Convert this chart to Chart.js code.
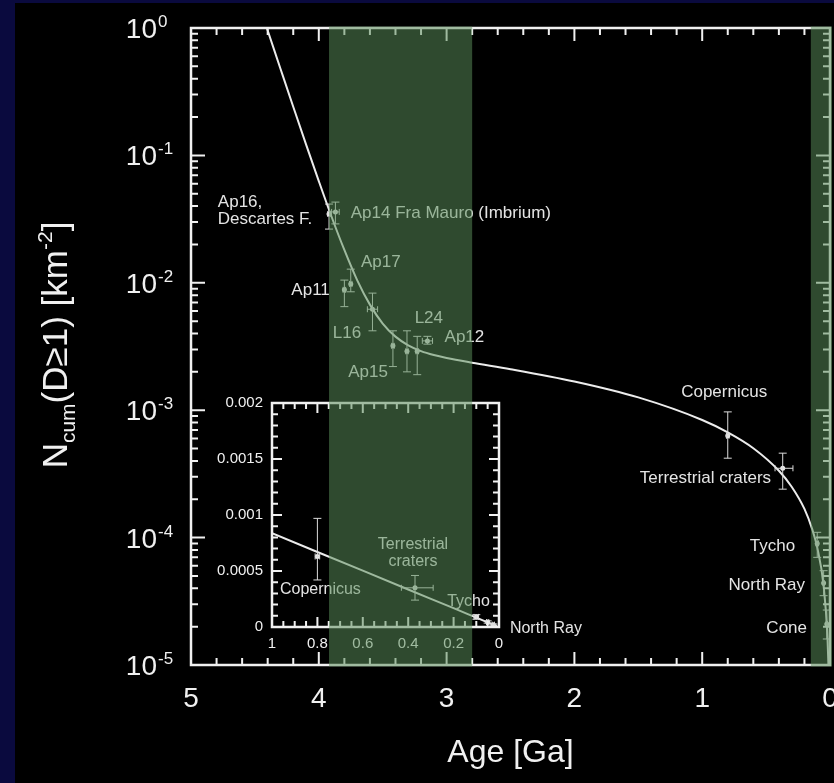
<!DOCTYPE html>
<html><head><meta charset="utf-8">
<script src="https://cdn.jsdelivr.net/npm/chart.js@4.4.1/dist/chart.umd.min.js"></script>
<style>
html,body{margin:0;padding:0;background:#0a0a3e;width:834px;height:783px;overflow:hidden;}
#panel{position:absolute;left:15px;top:3px;width:819px;height:780px;background:#000;}
#main{position:absolute;left:0;top:0;}
#inset{position:absolute;left:200px;top:385px;}
</style></head><body>
<div id="panel"></div>
<canvas id="main" width="834" height="783"></canvas>
<canvas id="inset" width="400" height="270"></canvas>
<script>
// ---- data ----
const curveAges = [4.45, 4.4, 4.35, 4.3, 4.2, 4.1, 4.0, 3.9, 3.8, 3.7, 3.6, 3.5, 3.4, 3.3, 3.2, 3.1, 3.0, 2.8, 2.5, 2.0, 1.5, 1.0, 0.8, 0.6, 0.4, 0.3, 0.2, 0.14, 0.1, 0.05, 0.02, 0.01];
const curveN = [1.35, 0.955, 0.676, 0.479, 0.241, 0.122, 0.0628, 0.0330, 0.0181, 0.0105, 0.00674, 0.00479, 0.00378, 0.00323, 0.00291, 0.00271, 0.00257, 0.00236, 0.00210, 0.00168, 0.00126, 0.000838, 0.000670, 0.000503, 0.000335, 0.000251, 0.000168, 0.000117, 0.0000838, 0.0000419, 0.0000168, 0.0000084];

const ptNames = ['Ap16', 'Ap14', 'Ap11', 'Ap17', 'L16', 'Ap15a', 'Ap15b', 'Ap15c', 'L24/Ap12', 'Copernicus', 'Terrestrial craters', 'Tycho', 'North Ray', 'Cone'];
const ptAge = [3.92, 3.87, 3.80, 3.75, 3.58, 3.42, 3.31, 3.23, 3.15, 0.80, 0.37, 0.10, 0.05, 0.025];
const ptN = [0.0347, 0.036, 0.0088, 0.0098, 0.0062, 0.0032, 0.0029, 0.0029, 0.0035, 0.00063, 0.00035, 0.00009, 0.000044, 0.000021];
const ptNlo = [0.0264, 0.029, 0.0065, 0.0085, 0.0042, 0.0022, 0.0020, 0.0019, 0.0033, 0.00042, 0.00024, 0.00007, 0.000035, 0.000016];
const ptNhi = [0.0415, 0.043, 0.0105, 0.0128, 0.0083, 0.0042, 0.0042, 0.0038, 0.0038, 0.00097, 0.00046, 0.00011, 0.000055, 0.000027];
const ptAgeOld = [3.93, 3.90, 3.81, 3.76, 3.62, 3.43, 3.32, 3.24, 3.19, 0.81, 0.43, 0.11, 0.055, 0.03];
const ptAgeYoung = [3.91, 3.84, 3.79, 3.74, 3.54, 3.41, 3.30, 3.22, 3.11, 0.79, 0.29, 0.09, 0.045, 0.02];

const bandOld = [3.92, 0.15];
const bandYoung = [2.80, 0];

const xTickLabels = [5, 4, 3, 2, 1, 0];
const yTickExps = [0, -1, -2, -3, -4, -5];
const insetXTicks = [1, 0.8, 0.6, 0.4, 0.2, 0];
const insetYTicks = [0, 0.0005, 0.001, 0.0015, 0.002];

const mainLabelText = ['Ap16,', 'Descartes F.', 'Ap14 Fra Mauro (Imbrium)', 'Ap17', 'Ap11', 'L16', 'L24', 'Ap12', 'Ap15', 'Copernicus', 'Terrestrial craters', 'Tycho', 'North Ray', 'Cone'];
const mainLabelAge = [4.79, 4.79, 3.75, 3.67, 3.914, 3.89, 3.25, 3.016, 3.77, 0.828, 0.461, 0.273, 0.195, 0.18];
const mainLabelN = [0.043, 0.0317, 0.0353, 0.01456, 0.00879, 0.00404, 0.0053, 0.00376, 0.0020, 0.00139, 0.000294, 0.000086, 0.0000425, 0.0000195];
const mainLabelAlign = ['left', 'left', 'left', 'left', 'right', 'left', 'left', 'left', 'left', 'center', 'right', 'right', 'right', 'right'];

const insetLabelText = ['Copernicus', 'Terrestrial', 'craters', 'Tycho', 'North Ray'];
const insetLabelAge = [0.965, 0.379, 0.379, 0.04, -0.048];
const insetLabelN = [0.00033, 0.000732, 0.00058, 0.000223, -0.00001];
const insetLabelAlign = ['left', 'center', 'center', 'right', 'left'];

// ---- styles ----
const FONT = '"Liberation Sans", Arial, Helvetica, sans-serif';
const WHITE = '#f0f0f0';
const TEXT = '#e4e4e4';
const BAND = 'rgba(88,140,88,0.53)';

function drawErrorBars(ctx, xs, ys, idx) {
  ctx.save();
  ctx.strokeStyle = '#dcdcdc';
  ctx.lineWidth = 1;
  idx.forEach(i => {
    const x = xs.getPixelForValue(ptAge[i]);
    const y = ys.getPixelForValue(ptN[i]);
    const y1 = ys.getPixelForValue(ptNhi[i]);
    const y2 = ys.getPixelForValue(ptNlo[i]);
    const x1 = xs.getPixelForValue(ptAgeOld[i]);
    const x2 = xs.getPixelForValue(ptAgeYoung[i]);
    ctx.beginPath();
    ctx.moveTo(x, y1); ctx.lineTo(x, y2);
    ctx.moveTo(x - 4, y1); ctx.lineTo(x + 4, y1);
    ctx.moveTo(x - 4, y2); ctx.lineTo(x + 4, y2);
    ctx.moveTo(x1, y); ctx.lineTo(x2, y);
    ctx.moveTo(x1, y - 3); ctx.lineTo(x1, y + 3);
    ctx.moveTo(x2, y - 3); ctx.lineTo(x2, y + 3);
    ctx.stroke();
  });
  ctx.restore();
}

function drawLabels(ctx, xs, ys, texts, ages, ns, aligns, size) {
  ctx.save();
  ctx.fillStyle = TEXT;
  ctx.font = size + 'px ' + FONT;
  ctx.textBaseline = 'middle';
  texts.forEach((t, i) => {
    ctx.textAlign = aligns[i];
    ctx.fillText(t, xs.getPixelForValue(ages[i]), ys.getPixelForValue(ns[i]));
  });
  ctx.restore();
}

const mainDecor = {
  id: 'mainDecor',
  afterDatasetsDraw(chart) {
    const ctx = chart.ctx, xs = chart.scales.x, ys = chart.scales.y, a = chart.chartArea;
    drawErrorBars(ctx, xs, ys, ptAge.map((_, i) => i));
    drawLabels(ctx, xs, ys, mainLabelText, mainLabelAge, mainLabelN, mainLabelAlign, 17);
    // frame
    ctx.save();
    ctx.strokeStyle = WHITE;
    ctx.lineWidth = 2.5;
    ctx.strokeRect(a.left, a.top, a.right - a.left, a.bottom - a.top);
    ctx.lineWidth = 2;
    ctx.beginPath();
    for (let k = 0; k <= 25; k++) {
      const v = k * 0.2;
      const px = xs.getPixelForValue(v);
      const len = (k % 5 === 0) ? 13 : 7;
      ctx.moveTo(px, a.bottom); ctx.lineTo(px, a.bottom - len);
      ctx.moveTo(px, a.top); ctx.lineTo(px, a.top + len);
    }
    for (let e = -5; e <= 0; e++) {
      for (let m = 1; m <= 9; m++) {
        if (e === 0 && m > 1) break;
        const py = ys.getPixelForValue(m * Math.pow(10, e));
        const len = m === 1 ? 14 : 7;
        ctx.moveTo(a.left, py); ctx.lineTo(a.left + len, py);
        ctx.moveTo(a.right, py); ctx.lineTo(a.right - len, py);
      }
    }
    ctx.stroke();
    // tick labels
    ctx.fillStyle = WHITE;
    ctx.textBaseline = 'alphabetic';
    yTickExps.forEach(e => {
      const py = ys.getPixelForValue(Math.pow(10, e));
      ctx.font = '28px ' + FONT;
      ctx.textAlign = 'right';
      ctx.fillText('10', 157, py + 10);
      ctx.font = '17px ' + FONT;
      ctx.textAlign = 'left';
      ctx.fillText(String(e), 158, py - 1);
    });
    ctx.font = '28px ' + FONT;
    ctx.textAlign = 'center';
    xTickLabels.forEach(v => {
      ctx.fillText(String(v), xs.getPixelForValue(v), a.bottom + 42);
    });
    // axis titles
    ctx.font = '32px ' + FONT;
    ctx.fillText('Age [Ga]', (a.left + a.right) / 2, 762);
    ctx.save();
    ctx.translate(67, 345);
    ctx.rotate(-Math.PI / 2);
    const parts = [['N', 35, 0], ['cum', 21, 8], ['(D\u22651) [km', 35, 0], ['-2', 21, -15], [']', 35, 0]];
    let total = 0;
    parts.forEach(p => { ctx.font = p[1] + 'px ' + FONT; total += ctx.measureText(p[0]).width; });
    let cx = -total / 2;
    ctx.textAlign = 'left';
    parts.forEach(p => { ctx.font = p[1] + 'px ' + FONT; ctx.fillText(p[0], cx, p[2]); cx += ctx.measureText(p[0]).width; });
    ctx.restore();
    ctx.restore();
  },
  afterDraw(chart) {
    const ctx = chart.ctx, xs = chart.scales.x, a = chart.chartArea;
    ctx.save();
    ctx.fillStyle = BAND;
    bandOld.forEach((o, i) => {
      const x1 = xs.getPixelForValue(o);
      let x2 = xs.getPixelForValue(bandYoung[i]);
      if (bandYoung[i] === 0) x2 += 2;
      ctx.fillRect(x1, a.top - 1.5, x2 - x1, a.bottom - a.top + 3);
    });
    ctx.restore();
  }
};

const mainChart = new Chart(document.getElementById('main'), {
  type: 'scatter',
  data: {
    datasets: [
      { data: curveAges.map((x, i) => ({ x, y: curveN[i] })), showLine: true, pointRadius: 0, borderColor: '#ececec', borderWidth: 2, cubicInterpolationMode: 'monotone' },
      { data: ptAge.map((x, i) => ({ x, y: ptN[i] })), pointRadius: 2.5, pointBackgroundColor: '#eeeeee', pointBorderWidth: 0, showLine: false }
    ]
  },
  options: {
    responsive: false, animation: false, events: [],
    layout: { padding: { left: 191, top: 28, right: 3, bottom: 118 } },
    plugins: { legend: { display: false }, tooltip: { enabled: false } },
    scales: {
      x: { type: 'linear', min: 0, max: 5, reverse: true, display: false },
      y: { type: 'logarithmic', min: 1e-5, max: 1, display: false }
    }
  },
  plugins: [mainDecor]
});

const insetIdx = ptAge.map((_, i) => i).filter(i => ptAge[i] <= 1);
const insetCanvas = document.getElementById('inset');

const insetDecor = {
  id: 'insetDecor',
  beforeDatasetsDraw(chart) {
    const ctx = chart.ctx, a = chart.chartArea;
    ctx.save();
    ctx.fillStyle = '#000';
    ctx.fillRect(a.left - 2, a.top - 2, a.right - a.left + 4, a.bottom - a.top + 4);
    ctx.restore();
  },
  afterDatasetsDraw(chart) {
    const ctx = chart.ctx, xs = chart.scales.x, ys = chart.scales.y, a = chart.chartArea;
    drawErrorBars(ctx, xs, ys, insetIdx);
    ctx.save();
    ctx.strokeStyle = WHITE;
    ctx.lineWidth = 2.5;
    ctx.strokeRect(a.left, a.top, a.right - a.left, a.bottom - a.top);
    ctx.lineWidth = 2;
    ctx.beginPath();
    for (let k = 0; k <= 20; k++) {
      const px = xs.getPixelForValue(k * 0.05);
      const len = (k % 4 === 0) ? 10 : 6;
      ctx.moveTo(px, a.bottom); ctx.lineTo(px, a.bottom - len);
      ctx.moveTo(px, a.top); ctx.lineTo(px, a.top + len);
    }
    for (let k = 0; k <= 20; k++) {
      const py = ys.getPixelForValue(k * 0.0001);
      const len = (k % 5 === 0) ? 10 : 6;
      ctx.moveTo(a.left, py); ctx.lineTo(a.left + len, py);
      ctx.moveTo(a.right, py); ctx.lineTo(a.right - len, py);
    }
    ctx.stroke();
    ctx.fillStyle = WHITE;
    ctx.font = '15px ' + FONT;
    ctx.textAlign = 'center';
    ctx.textBaseline = 'alphabetic';
    insetXTicks.forEach(v => ctx.fillText(String(v), xs.getPixelForValue(v), a.bottom + 21));
    ctx.textAlign = 'right';
    ctx.textBaseline = 'middle';
    insetYTicks.forEach(v => ctx.fillText(String(v), a.left - 9, ys.getPixelForValue(v)));
    ctx.restore();
    drawLabels(ctx, xs, ys, insetLabelText, insetLabelAge, insetLabelN, insetLabelAlign, 16);
  },
  afterDraw(chart) {
    const ctx = chart.ctx;
    const mx = mainChart.scales.x;
    const off = insetCanvas.offsetLeft;
    ctx.save();
    ctx.globalCompositeOperation = 'source-atop';
    ctx.fillStyle = BAND;
    bandOld.forEach((o, i) => {
      const x1 = mx.getPixelForValue(o) - off;
      const x2 = mx.getPixelForValue(bandYoung[i]) - off;
      ctx.fillRect(x1, 0, x2 - x1, chart.height);
    });
    ctx.restore();
  }
};

new Chart(insetCanvas, {
  type: 'scatter',
  data: {
    datasets: [
      { data: curveAges.map((x, i) => ({ x, y: curveN[i] })).filter(p => p.x <= 1), showLine: true, pointRadius: 0, borderColor: '#ececec', borderWidth: 2 },
      { data: insetIdx.map(i => ({ x: ptAge[i], y: ptN[i] })), pointRadius: 2.5, pointBackgroundColor: '#eeeeee', pointBorderWidth: 0, showLine: false }
    ]
  },
  options: {
    responsive: false, animation: false, events: [],
    layout: { padding: { left: 72, top: 18, right: 101, bottom: 28 } },
    plugins: { legend: { display: false }, tooltip: { enabled: false } },
    scales: {
      x: { type: 'linear', min: 0, max: 1, reverse: true, display: false },
      y: { type: 'linear', min: 0, max: 0.002, display: false }
    }
  },
  plugins: [insetDecor]
});
</script>
</body></html>
